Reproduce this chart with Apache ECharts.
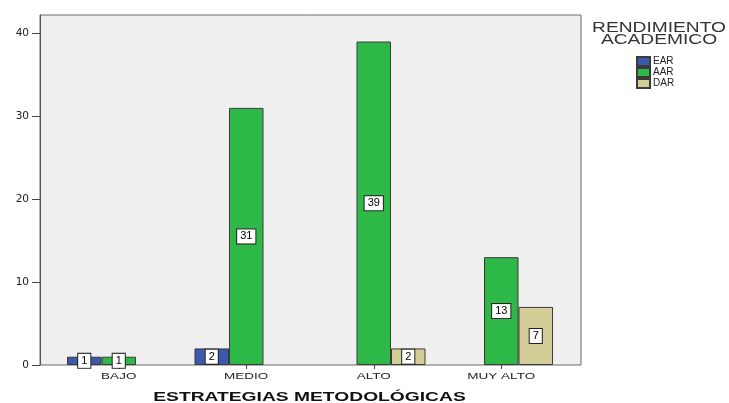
<!DOCTYPE html>
<html><head><meta charset="utf-8">
<script src="https://cdn.jsdelivr.net/npm/echarts@6/dist/echarts.min.js"></script>
<style>html,body{margin:0;padding:0;background:#fff}#c{width:729px;height:403px}</style>
</head><body><div id="c"></div>
<script>
const categories = ['BAJO', 'MEDIO', 'ALTO', 'MUY ALTO'];
const EAR = [1, 2, null, null];
const AAR = [1, 31, 39, 13];
const DAR = [null, null, 2, 7];
const yTicks = [0, 10, 20, 30, 40];
const xTitle = 'ESTRATEGIAS METODOLÓGICAS';
const legendTitle = ['RENDIMIENTO', 'ACADEMICO'];

const FONT = 'Liberation Sans, Arial, sans-serif';
const chart = echarts.init(document.getElementById('c'));
const lbl = {
  show: true, position: 'inside', color: '#000', fontFamily: FONT, fontSize: 11,
  backgroundColor: '#fff', borderColor: '#222', borderWidth: 1, padding: [2, 3, 1, 3]
};
function mk(name, data, color) {
  return {
    name, type: 'bar', data, xAxisIndex: 1, yAxisIndex: 1,
    barWidth: 34.5, barGap: '0%',
    itemStyle: { color, borderColor: '#3a3a3a', borderWidth: 1 },
    label: lbl
  };
}
chart.setOption({
  animation: false,
  grid: [
    { left: 40, right: 148, top: 15, bottom: 38, show: true, backgroundColor: '#efefef', borderColor: '#6a6a6a', borderWidth: 1 },
    { left: 55, right: 164, top: 15, bottom: 38 }
  ],
  xAxis: [
    { gridIndex: 0, type: 'value', show: false, min: 0, max: 1 },
    { gridIndex: 1, type: 'category', data: categories,
      axisLine: { show: false },
      axisTick: { show: true, alignWithLabel: true, length: 4, lineStyle: { color: '#444' } },
      axisLabel: { show: false } }
  ],
  yAxis: [
    { gridIndex: 0, type: 'value', min: 0, max: 42.2, interval: 10,
      splitLine: { show: false },
      axisLine: { show: true, lineStyle: { color: '#555' } },
      axisTick: { show: true, length: 8, customValues: yTicks, lineStyle: { color: '#444' } },
      axisLabel: { margin: 11, customValues: yTicks, color: '#222', fontFamily: 'DejaVu Sans', fontSize: 10.5 } },
    { gridIndex: 1, type: 'value', min: 0, max: 42.2, show: false }
  ],
  legend: {
    orient: 'vertical', left: 636, top: 56, padding: 0, itemGap: 0,
    itemWidth: 13, itemHeight: 9, icon: 'rect',
    textStyle: { fontFamily: FONT, fontSize: 10, color: '#222', lineHeight: 10, padding: [0, 0, 0, -2] },
    data: ['EAR', 'AAR', 'DAR']
  },
  series: [
    mk('EAR', EAR, '#3e58ac'),
    mk('AAR', AAR, '#2eb848'),
    mk('DAR', DAR, '#d3ce97')
  ]
});

const g = [];
categories.forEach((c, i) => {
  const x = chart.convertToPixel({ xAxisIndex: 1 }, c);
  g.push({ type: 'text', id: 'xl' + i, x: x, y: 377, scaleX: 1.5,
    style: { text: c, x: 0, y: 0, align: 'center', verticalAlign: 'middle', fill: '#222', font: '9px ' + FONT } });
});
g.push({ type: 'text', id: 'xt', x: 309.5, y: 397.5, scaleX: 1.48,
  style: { text: xTitle, x: 0, y: 0, align: 'center', verticalAlign: 'middle', fill: '#111', font: 'bold 13px ' + FONT } });
legendTitle.forEach((t, i) => {
  g.push({ type: 'text', id: 'lt' + i, x: 659, y: 28.5 + i * 11.5, scaleX: 1.37,
    style: { text: t, x: 0, y: 0, align: 'center', verticalAlign: 'middle', fill: '#333', font: '14px ' + FONT } });
});
chart.setOption({ graphic: g });
</script></body></html>
